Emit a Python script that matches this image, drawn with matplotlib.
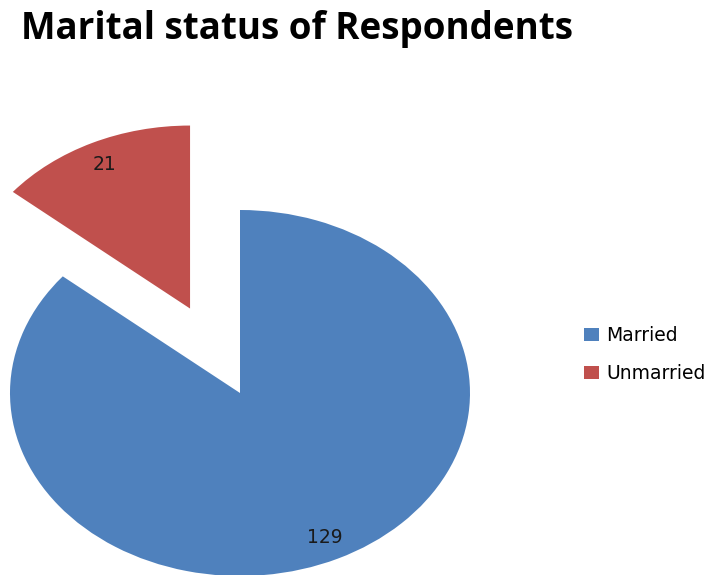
import matplotlib
matplotlib.use("Agg")
import matplotlib.pyplot as plt

# Data
categories = ["Married", "Unmarried"]
counts = [129, 21]
colors = ["#4F81BD", "#C0504D"]
explode = [0.0, 0.51]

W, H = 711, 575
fig = plt.figure(figsize=(W / 100, H / 100), dpi=100)
fig.patch.set_facecolor("white")

ax = fig.add_axes([0, 0, 1, 1])

wedges, texts, autotexts = ax.pie(
    counts,
    colors=colors,
    explode=explode,
    startangle=90,
    counterclock=False,
    autopct=lambda p: f"{round(p * sum(counts) / 100):d}",
    pctdistance=0.87,
    wedgeprops=dict(linewidth=0),
    textprops=dict(fontsize=13.5, color="#1a1a1a", family="DejaVu Sans"),
)

# Pie drawn slightly wider than tall; set data limits in pixel units
cx, cy = 240, 393      # pie centre (px from left / top)
rx, ry = 230, 183      # horizontal / vertical radius in px
ax.set_aspect("auto")
ax.set_xlim(-cx / rx, (W - cx) / rx)
ax.set_ylim(-(H - cy) / ry, cy / ry)
ax.axis("off")

# Title
fig.text(21 / W, 1 - 29 / H, "Marital status of Respondents",
         fontsize=26.5, fontweight="bold", family="Open Sans",
         ha="left", va="center", color="black")

# Legend
leg = fig.legend(
    wedges, categories,
    loc="upper left",
    bbox_to_anchor=(584 / W, 1 - 326 / H),
    frameon=False,
    fontsize=13.5,
    handlelength=0.8,
    handleheight=0.7,
    handletextpad=0.4,
    labelspacing=1.0,
    borderpad=0,
    borderaxespad=0,
)

fig.savefig("out.png", dpi=100, facecolor="white")
